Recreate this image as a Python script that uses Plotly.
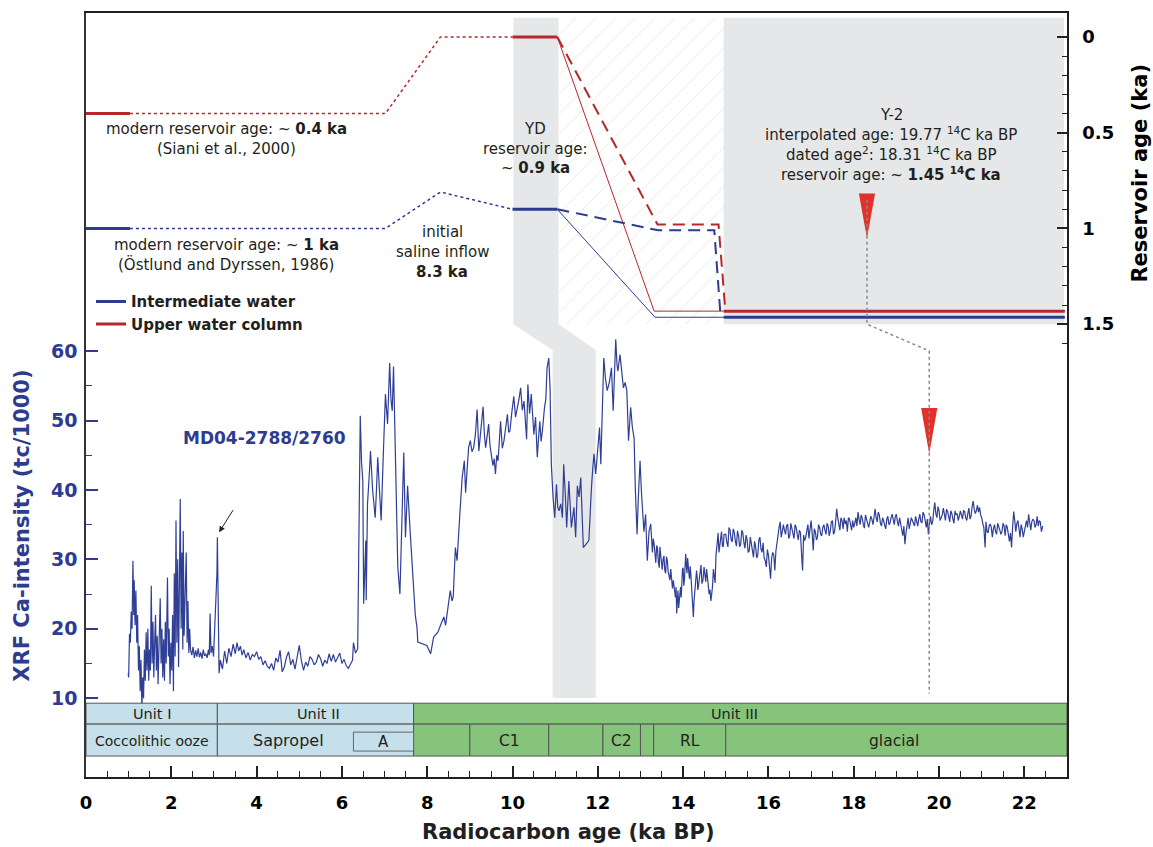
import plotly.graph_objects as go

# ---------------- DATA ----------------
# XRF Ca-intensity record MD04-2788/2760: (radiocarbon age ka BP, Ca tc/1000)
XRF_SEG1 = [(0.99,13.6),(1.00,13.0),(1.02,19.3),(1.04,18.0),(1.06,22.5),(1.08,20.0),(1.10,29.8),(1.12,22.0),(1.13,27.0),(1.15,20.5),
            (1.17,25.5),(1.19,18.0),(1.21,22.0),(1.23,14.0),(1.25,17.5),(1.27,11.0),(1.29,15.5),(1.31,8.5),(1.33,13.0),(1.35,10.0),
            (1.37,17.0),(1.39,12.5),(1.41,19.5),(1.43,14.0),(1.45,20.0),(1.47,12.5),(1.49,17.0),(1.51,14.0),(1.53,26.2),(1.55,15.0),
            (1.57,21.0),(1.59,13.0),(1.61,18.0),(1.63,22.0),(1.65,14.0),(1.67,19.0),(1.69,12.0),(1.71,17.0),(1.74,24.4),(1.76,15.0),
            (1.78,20.0),(1.80,13.0),(1.82,18.5),(1.84,12.5),(1.86,21.0),(1.88,15.0),(1.91,27.4),(1.93,16.0),(1.95,20.0),(1.97,12.0),
            (1.99,18.0),(2.01,14.0),(2.03,22.0),(2.05,11.0),(2.07,28.0),(2.09,16.0),(2.11,35.6),(2.13,18.0),(2.15,30.0),(2.17,14.5),
            (2.19,27.0),(2.21,38.7),(2.23,20.0),(2.25,31.0),(2.27,17.0),(2.28,34.1),(2.30,19.0),(2.32,25.0),(2.35,31.0),(2.37,18.0),
            (2.39,24.0),(2.41,16.5),(2.43,20.0),(2.45,17.0),(2.48,16.2),(2.51,17.4),(2.54,15.8),(2.57,16.9),(2.60,16.0),(2.63,17.2),
            (2.66,15.9),(2.69,16.6),(2.72,15.7),(2.75,17.0),(2.78,16.1),(2.81,16.4),(2.84,15.8),(2.87,17.0),(2.89,16.2),(2.91,22.2),
            (2.93,16.5),(2.96,17.5),(2.99,16.0),(3.01,19.0),(3.03,21.5),(3.05,24.0),(3.07,28.0),(3.08,33.2),(3.10,20.0),(3.12,13.6)]

XRF_SEG2 = [(3.15,15.5),(3.20,14.2),(3.25,16.8),(3.30,15.0),(3.35,17.2),(3.40,16.0),(3.45,17.8),(3.50,16.4),(3.54,18.0),(3.58,16.8),
            (3.62,17.5),(3.66,16.2),(3.70,17.0),(3.75,15.8),(3.80,16.6),(3.85,15.5),(3.90,16.3),(3.95,16.0),(4.00,16.7),(4.05,15.6),
            (4.10,16.0),(4.15,14.8),(4.20,15.4),(4.25,14.6),(4.30,14.3),(4.35,15.0),(4.40,14.0),(4.45,15.8),(4.50,15.2),(4.55,16.9),
            (4.60,13.8),(4.65,14.5),(4.70,15.9),(4.75,16.7),(4.80,14.8),(4.85,15.6),(4.90,14.2),(4.95,16.0),(5.00,17.6),(5.05,15.4),
            (5.10,14.0),(5.15,15.2),(5.20,14.6),(5.25,16.0),(5.30,15.6),(5.35,14.8),(5.40,15.2),(5.45,16.3),(5.50,15.7),(5.55,14.6),
            (5.60,15.5),(5.65,15.0),(5.70,16.4),(5.75,15.3),(5.80,16.3),(5.85,15.2),(5.90,15.8),(5.95,16.5),(6.00,15.0),(6.05,15.6),
            (6.10,14.7),(6.15,14.3),(6.20,14.9),(6.25,15.5)]

XRF_SEG3 = [(6.27,18.0),(6.32,16.5),(6.37,17.1),(6.43,50.7),(6.46,44.0),(6.49,41.3),(6.51,23.6),(6.54,28.0),(6.56,32.7),(6.57,24.1),
            (6.60,38.0),(6.64,42.0),(6.67,45.6),(6.72,40.0),(6.75,38.0),(6.78,36.0),(6.81,40.0),(6.84,44.7),(6.88,40.0),(6.92,35.6),
            (6.97,45.0),(7.02,53.8),(7.07,49.5),(7.12,58.3),(7.15,53.0),(7.18,51.4),(7.21,57.8),(7.26,42.0),(7.31,28.9),(7.36,25.0),
            (7.41,38.0),(7.45,45.4),(7.49,33.2),(7.54,40.6),(7.60,34.0),(7.65,29.0),(7.68,26.0),(7.72,22.0),(7.76,20.2),(7.78,18.1),
            (7.99,17.6),(8.08,16.4),(8.15,18.8),(8.25,19.5),(8.33,20.8),(8.39,21.7),(8.43,20.5),(8.48,23.0),(8.54,25.5),(8.58,24.0),
            (8.61,24.6),(8.66,31.7),(8.70,29.8),(8.76,36.0),(8.82,41.8),(8.87,44.2),(8.90,39.6),(8.97,46.1),(9.01,47.1),(9.05,45.5),
            (9.09,46.1),(9.13,48.0),(9.17,51.6),(9.21,45.6),(9.25,48.0),(9.31,52.0),(9.34,48.0),(9.37,46.1),(9.40,47.5),(9.44,49.5),
            (9.47,46.5),(9.50,45.2),(9.54,43.5),(9.57,44.5),(9.60,42.3),(9.63,45.0),(9.66,44.2),(9.69,47.0),(9.72,49.9),(9.76,46.0),
            (9.80,47.1),(9.84,49.0),(9.88,50.9),(9.91,48.3),(9.94,48.5),(9.98,51.0),(10.03,53.5),(10.07,50.5),(10.12,51.9),(10.15,53.0),
            (10.19,54.7),(10.23,51.5),(10.27,52.8),(10.30,50.0),(10.33,47.3),(10.36,55.2),(10.40,51.0),(10.44,53.8),(10.47,50.0),(10.50,48.0),
            (10.54,50.5),(10.58,44.7),(10.61,47.5),(10.64,49.9),(10.67,47.0),(10.70,48.5),(10.75,51.9),(10.78,53.0),(10.81,57.6),(10.85,59.0),
            (10.88,54.7),(10.91,43.7),(10.95,39.0),(10.99,36.0),(11.03,40.8),(11.06,37.5),(11.09,37.0),(11.13,38.0),(11.17,36.0),(11.20,43.7),
            (11.24,39.0),(11.27,34.6),(11.32,41.3),(11.35,37.0),(11.38,34.6),(11.44,37.5),(11.48,33.2),(11.52,40.6),(11.56,39.0),(11.60,41.8),
            (11.63,37.0),(11.66,31.7),(11.79,32.7),(11.82,37.0),(11.85,40.3),(11.88,43.0),(11.91,45.2),(11.95,42.3),(12.01,47.1),(12.04,49.0),
            (12.07,43.7),(12.10,52.0),(12.14,59.0),(12.18,56.0),(12.22,54.3),(12.27,55.5),(12.32,57.6),(12.36,51.4),(12.39,56.0),(12.42,61.7),
            (12.45,58.0),(12.47,57.1),(12.52,59.5),(12.56,57.0),(12.60,54.7),(12.64,55.5),(12.68,54.3),(12.72,47.1),(12.77,51.9),(12.81,49.0),
            (12.85,47.5),(12.88,40.0),(12.92,33.6),(12.95,39.0),(12.99,44.2),(13.02,40.0),(13.04,38.0),(13.08,34.0),(13.12,36.5),(13.14,31.0),
            (13.16,29.8),(13.20,34.0),(13.24,35.1)]

XRF_SEG4 = [(13.28,31.0),(13.32,32.2),(13.36,29.5),(13.40,31.5),(13.44,28.8),(13.47,30.8),(13.51,28.5),(13.55,30.5),(13.59,28.0),(13.63,29.8),
            (13.67,27.5),(13.71,28.6),(13.75,25.8),(13.79,26.0),(13.82,24.5),(13.85,22.2),(13.88,25.5),(13.91,23.8),(13.94,26.0),(13.97,27.5),
            (14.00,28.8),(14.03,27.0),(14.06,30.8),(14.09,28.0),(14.12,29.5),(14.15,27.2),(14.18,27.9),(14.21,25.0),(14.24,21.7),(14.27,25.5),
            (14.30,27.0),(14.33,27.4),(14.36,26.2),(14.40,28.0),(14.44,26.5),(14.49,28.9),(14.53,26.8),(14.57,27.5),(14.61,25.0),(14.65,24.0),
            (14.69,26.2),(14.73,27.9),(14.77,30.5),(14.80,32.7),(14.84,31.0),(14.88,33.2),(14.92,32.0),(14.96,33.6)]
XRF_SEG4_FINE = [(13.30,33.0),(13.34,30.0),(13.38,32.0),(13.42,29.6),(13.455,31.8),(13.49,29.2),(13.53,30.0),(13.57,28.4),(13.61,30.4),
                 (13.65,28.2),(13.69,27.0),(13.73,27.4),(13.77,27.0),(13.805,25.0),(13.835,26.0),(13.865,24.2),(13.895,23.0),(13.925,25.2),
                 (13.955,24.5),(13.985,28.6),(14.015,26.2),(14.045,29.0),(14.075,29.2),(14.105,30.2),(14.135,28.0),(14.165,29.0),(14.195,26.0),
                 (14.225,24.0),(14.255,24.0),(14.285,26.2),(14.315,28.4),(14.345,25.6),(14.38,27.6),(14.42,29.2),(14.465,27.0),(14.51,27.2),
                 (14.55,28.6),(14.59,26.4),(14.63,25.6),(14.67,25.0),(14.71,28.6),(14.75,26.6),(14.785,31.5),(14.82,33.8),(14.86,32.0),
                 (14.90,34.0),(14.94,31.8)]

XRF_SEG5 = [(15.00,33.6),(15.05,31.8),(15.10,34.2),(15.15,32.5),(15.20,33.9),(15.25,31.9),(15.30,33.4),(15.35,32.2),(15.40,33.8),(15.45,31.6),
            (15.50,32.8),(15.55,31.2),(15.60,32.4),(15.65,30.3),(15.70,31.8),(15.75,30.6),(15.80,33.2),(15.85,31.0),(15.90,30.2),(15.95,28.9),
            (16.00,30.6),(16.05,27.2),(16.10,31.0),(16.15,28.4),(16.20,32.5),(16.25,34.6),(16.30,33.2),(16.35,35.0),(16.40,33.6),(16.45,35.1),
            (16.50,33.4),(16.55,34.4),(16.60,33.0),(16.65,34.6),(16.70,32.8),(16.75,33.9),(16.80,28.4),(16.85,32.7),(16.90,34.2),(16.95,33.0),
            (17.00,35.6),(17.05,31.3),(17.10,34.0),(17.15,33.2),(17.20,34.6),(17.25,33.4),(17.30,35.0),(17.35,33.6),(17.40,34.8),(17.45,34.1),
            (17.50,35.6),(17.55,34.0),(17.60,37.3),(17.65,35.2),(17.70,36.0),(17.75,34.4),(17.80,35.1),(17.85,34.0),(17.90,35.8),(17.95,34.2),
            (18.00,34.6),(18.05,36.0),(18.10,36.8),(18.15,35.0),(18.20,35.9),(18.25,34.5),(18.30,35.8),(18.35,34.6),(18.40,36.2),(18.45,35.0),
            (18.50,37.3),(18.55,35.4),(18.60,36.4),(18.65,34.8),(18.70,35.6),(18.75,34.4),(18.80,36.2),(18.85,35.2),(18.90,36.5),(18.95,35.0),
            (19.00,36.5),(19.05,34.8),(19.10,35.1),(19.15,33.4),(19.20,32.2),(19.25,35.2),(19.30,34.4),(19.35,36.0),(19.40,35.1),(19.45,36.2),
            (19.50,34.8),(19.55,36.5),(19.60,35.3),(19.65,36.4),(19.70,34.6),(19.75,33.6),(19.80,36.2),(19.85,35.4),(19.90,38.2),(19.95,36.0),
            (20.00,37.0),(20.05,36.0),(20.10,37.4),(20.15,35.6),(20.20,36.9),(20.25,35.4),(20.30,36.6),(20.35,35.2),(20.40,36.4),(20.45,35.6),
            (20.50,37.0),(20.55,35.8),(20.60,36.9),(20.65,35.6),(20.70,37.4),(20.75,36.2),(20.80,38.4),(20.85,36.6),(20.90,37.8),(20.95,37.5),
            (21.00,36.0),(21.05,34.6),(21.08,31.7),(21.10,35.4),(21.15,33.8),(21.20,35.1),(21.25,33.2),(21.30,35.0),(21.35,33.6),(21.40,34.8),
            (21.45,33.6),(21.50,35.2),(21.55,33.4),(21.60,34.6),(21.65,32.6),(21.70,31.7),(21.75,36.9),(21.80,34.0),(21.85,35.6),(21.90,33.2),
            (21.95,34.4),(22.00,33.8),(22.05,35.6),(22.10,36.5),(22.15,34.2),(22.20,35.8),(22.25,34.6),(22.30,36.2),(22.35,35.6),(22.40,34.0),
            (22.43,34.8)]
XRF_SEG5_FINE = [(15.025,32.4),(15.075,34.6),(15.125,32.9),(15.175,34.4),(15.225,32.6),(15.275,34.1),(15.325,31.8),(15.375,34.2),(15.425,32.4),
                 (15.475,33.5),(15.525,31.0),(15.575,33.2),(15.625,31.5),(15.675,32.6),(15.725,30.2),(15.775,32.8),(15.825,31.5),(15.875,32.4),
                 (15.925,29.8),(15.975,31.4),(16.025,29.0),(16.075,30.2),(16.125,30.6),(16.175,31.2),(16.225,33.4),(16.275,35.4),(16.325,34.0),
                 (16.375,34.2),(16.425,34.8),(16.475,33.0),(16.525,35.2),(16.575,33.4),(16.625,35.0),(16.675,33.6),(16.725,34.2),(16.775,31.0),
                 (16.825,33.5),(16.875,33.2),(16.925,35.0),(16.975,34.2),(17.025,33.8),(17.075,34.4),(17.125,32.8),(17.175,35.0),(17.225,33.6),
                 (17.275,34.6),(17.325,34.2),(17.375,35.2),(17.425,33.4),(17.475,35.4),(17.525,33.6),(17.575,35.4),(17.625,36.0),(17.675,34.2),
                 (17.725,35.6),(17.775,36.0),(17.825,35.6),(17.875,36.0),(17.925,34.6),(17.975,35.6),(18.025,35.2),(18.075,34.8),(18.125,35.8),
                 (18.175,36.4),(18.225,35.0),(18.275,36.4),(18.325,35.4),(18.375,35.4),(18.425,35.8),(18.475,36.0),(18.525,36.0),(18.575,36.8),
                 (18.625,35.2),(18.675,36.0),(18.725,34.9),(18.775,35.8),(18.825,35.0),(18.875,36.0),(18.925,35.8),(18.975,36.2),(19.025,35.4),
                 (19.075,36.0),(19.125,34.6),(19.175,34.8),(19.225,33.8),(19.275,36.0),(19.325,35.0),(19.375,35.6),(19.425,34.8),(19.475,35.5),
                 (19.525,35.8),(19.575,35.4),(19.625,36.8),(19.675,35.6),(19.725,35.8),(19.775,35.2),(19.825,35.0),(19.875,37.0),(19.925,36.6),
                 (19.975,37.6),(20.025,35.6),(20.075,36.4),(20.125,36.2),(20.175,37.2),(20.225,36.2),(20.275,37.0),(20.325,35.8),(20.375,37.0),
                 (20.425,36.6),(20.475,36.2),(20.525,36.4),(20.575,37.0),(20.625,36.0),(20.675,36.6),(20.725,35.8),(20.775,37.6),(20.825,37.2),
                 (20.875,37.0),(20.925,36.8),(20.975,36.4),(21.025,35.2),(21.125,34.0),(21.175,34.8),(21.225,34.6),(21.275,34.4),(21.325,34.0),
                 (21.375,35.2),(21.425,34.2),(21.475,34.0),(21.525,34.8),(21.575,35.0),(21.625,33.6),(21.675,33.8),(21.725,34.6),(21.775,35.6),
                 (21.825,35.2),(21.875,34.4),(21.925,35.0),(21.975,33.2),(22.025,34.8),(22.075,34.6),(22.125,35.4),(22.175,35.4),(22.225,35.6),
                 (22.275,35.0),(22.325,34.8),(22.375,35.4)]

# Reservoir ages (ka) — intermediate water
INT_MODERN_AGE = [0.0, 1.03];                 INT_MODERN_RES = [1.0, 1.0]
INT_HOLO_AGE   = [1.03, 7.02, 8.31, 10.0];    INT_HOLO_RES   = [1.0, 1.0, 0.81, 0.90]
INT_YD_AGE     = [10.0, 11.05];               INT_YD_RES     = [0.9, 0.9]
INT_SOLID_AGE  = [11.05, 13.34, 14.95];       INT_SOLID_RES  = [0.9, 1.464, 1.464]
INT_DASH_AGE   = [11.05, 13.42, 14.73, 14.88]; INT_DASH_RES  = [0.9, 1.01, 1.01, 1.464]
INT_GLAC_AGE   = [14.95, 22.95];              INT_GLAC_RES   = [1.464, 1.464]
# Reservoir ages (ka) — upper water column
UPP_MODERN_AGE = [0.0, 1.03];                 UPP_MODERN_RES = [0.4, 0.4]
UPP_HOLO_AGE   = [1.03, 7.02, 8.31, 10.0];    UPP_HOLO_RES   = [0.4, 0.4, 0.0, 0.0]
UPP_YD_AGE     = [10.0, 11.05];               UPP_YD_RES     = [0.0, 0.0]
UPP_SOLID_AGE  = [11.05, 13.32, 14.95];       UPP_SOLID_RES  = [0.0, 1.432, 1.432]
UPP_DASH_AGE   = [11.05, 13.40, 14.83, 14.99]; UPP_DASH_RES  = [0.0, 0.98, 0.98, 1.432]
UPP_GLAC_AGE   = [14.95, 22.95];              UPP_GLAC_RES   = [1.432, 1.432]

# Tephra Y-2
Y2_DATED = 18.31
Y2_INTERP = 19.77

# Lithology
UNIT_NAMES  = ["Unit I", "Unit II", "Unit III"]
UNIT_BOUNDS = [(0.0, 3.08), (3.08, 7.68), (7.68, 23.0)]
UNIT_LABEL_X = [1.54, 5.45, 15.2]
LITH_NAMES  = ["Coccolithic ooze", "Sapropel", "", "C1", "", "C2", "", "RL", "glacial"]
LITH_BOUNDS = [(0.0, 3.08), (3.08, 7.68), (7.68, 9.0), (9.0, 10.85), (10.85, 12.12),
               (12.12, 13.0), (13.0, 13.31), (13.31, 15.0), (15.0, 23.0)]
LITH_LABEL_X = [1.54, 4.75, None, 9.93, None, 12.56, None, 14.15, 18.95]
SAPROPEL_A = (6.27, 7.68)

X_TICKS = [0, 2, 4, 6, 8, 10, 12, 14, 16, 18, 20, 22]
CA_TICKS = [10, 20, 30, 40, 50, 60]
RES_TICKS = [0, 0.5, 1, 1.5]
RES_TICK_TEXT = ["0", "0.5", "1", "1.5"]

# ---------------- layout helpers ----------------
L, R, T, B = 86, 1067, 11, 777
W, H = R - L, B - T
def PX(p): return (p - L) / W
def PY(p): return (B - p) / H

BLUE = "#2e3b8f"
RED = "#b3272d"
CURVE = "#2f3f96"
TXT = "#231f20"
GRAY = "#e6e7e8"
LBLUE = "#c5e0eb"
GREEN = "#86c47c"
FONT = "DejaVu Sans"

fig = go.Figure()

# hatched interval
fig.add_trace(go.Bar(x=[13.015], y=[1.6], base=[-0.1], width=[3.87], yaxis="y2",
                     marker=dict(color="rgba(0,0,0,0)", line=dict(width=0),
                                 pattern=dict(shape="/", fgcolor="#d2d2d2", bgcolor="rgba(0,0,0,0)",
                                              size=14, solidity=0.07)),
                     showlegend=False, hoverinfo="skip"))

# XRF curve
xrf = sorted(XRF_SEG1 + XRF_SEG2 + XRF_SEG3 + XRF_SEG4 + XRF_SEG4_FINE + XRF_SEG5 + XRF_SEG5_FINE)
fig.add_trace(go.Scatter(x=[a for a, _ in xrf], y=[c for _, c in xrf], mode="lines",
                         line=dict(color=CURVE, width=1.2), showlegend=False, hoverinfo="skip"))

def res_line(xs, ys, color, width, dash="solid", name=None, legend=False, group=None):
    fig.add_trace(go.Scatter(x=xs, y=ys, yaxis="y2", mode="lines",
                             line=dict(color=color, width=width, dash=dash),
                             name=name, showlegend=legend, legendgroup=group, hoverinfo="skip"))

res_line(INT_MODERN_AGE, INT_MODERN_RES, BLUE, 3, name="<b>Intermediate water</b>", legend=True, group="int")
res_line(UPP_MODERN_AGE, UPP_MODERN_RES, RED, 3, name="<b>Upper water column</b>", legend=True, group="upp")
res_line(INT_HOLO_AGE, INT_HOLO_RES, BLUE, 1.5, "dot")
res_line(UPP_HOLO_AGE, UPP_HOLO_RES, RED, 1.5, "dot")
res_line(INT_YD_AGE, INT_YD_RES, BLUE, 3)
res_line(UPP_YD_AGE, UPP_YD_RES, RED, 3)
res_line(INT_SOLID_AGE, INT_SOLID_RES, BLUE, 1)
res_line(UPP_SOLID_AGE, UPP_SOLID_RES, RED, 1)
res_line(INT_DASH_AGE, INT_DASH_RES, BLUE, 2, "12px,7px")
res_line(UPP_DASH_AGE, UPP_DASH_RES, RED, 2, "12px,7px")
res_line(INT_GLAC_AGE, INT_GLAC_RES, BLUE, 3)
res_line(UPP_GLAC_AGE, UPP_GLAC_RES, RED, 3)

# Y-2 connector (dated -> interpolated age)
fig.add_trace(go.Scatter(x=[Y2_DATED, Y2_DATED, Y2_INTERP, Y2_INTERP], y=[0.85, 1.5, 1.64, 3.43],
                         yaxis="y2", mode="lines", line=dict(color="#8c8c8c", width=1.5, dash="dot"),
                         showlegend=False, hoverinfo="skip"))

shapes = []
shapes.append(dict(type="path", xref="x", yref="y2", layer="below", line=dict(width=0), fillcolor=GRAY,
                   path="M 10.02,-0.1 L 11.08,-0.1 L 11.08,1.5 L 11.95,1.635 L 11.95,3.453 "
                        "L 10.94,3.453 L 10.94,1.635 L 10.02,1.5 Z"))
shapes.append(dict(type="rect", xref="x", yref="y2", layer="below", line=dict(width=0), fillcolor=GRAY,
                   x0=14.95, x1=22.93, y0=-0.1, y1=1.5))
for xc, y0, y1 in [(Y2_DATED, 0.818, 1.052), (Y2_INTERP, 1.9375, 2.177)]:
    shapes.append(dict(type="path", xref="x", yref="y2", layer="below", line=dict(width=0),
                       fillcolor="#e2302a",
                       path=f"M {xc-0.19},{y0} L {xc+0.19},{y0} L {xc},{y1} Z"))

for (x0, x1) in UNIT_BOUNDS:
    shapes.append(dict(type="rect", xref="x", yref="paper", layer="above",
                       x0=x0, x1=x1, y0=PY(724), y1=PY(703),
                       fillcolor=LBLUE if x1 <= 7.7 else GREEN, line=dict(color="#555555", width=1)))
for (x0, x1) in LITH_BOUNDS:
    shapes.append(dict(type="rect", xref="x", yref="paper", layer="above",
                       x0=x0, x1=x1, y0=PY(756), y1=PY(724),
                       fillcolor=LBLUE if x1 <= 7.7 else GREEN, line=dict(color="#555555", width=1)))
shapes.append(dict(type="rect", xref="x", yref="paper", layer="above",
                   x0=SAPROPEL_A[0], x1=SAPROPEL_A[1], y0=PY(751), y1=PY(732),
                   fillcolor=LBLUE, line=dict(color="#666666", width=1)))

ann = []
def txt(s, x, y, size=15, color=TXT, xanchor="center", angle=0):
    ann.append(dict(text=s, x=PX(x), y=PY(y), xref="paper", yref="paper", showarrow=False,
                    xanchor=xanchor, yanchor="middle", textangle=angle,
                    font=dict(family=FONT, size=size, color=color)))

for name, xc in zip(UNIT_NAMES, UNIT_LABEL_X):
    ann.append(dict(text=name, x=xc, y=PY(713.5), xref="x", yref="paper", showarrow=False,
                    xanchor="center", yanchor="middle", font=dict(family=FONT, size=14.5, color=TXT)))
for name, xc in zip(LITH_NAMES, LITH_LABEL_X):
    if name:
        size = 14 if name.startswith("Cocco") else (16 if name == "Sapropel" else 15.5)
        ann.append(dict(text=name, x=xc, y=PY(740.5), xref="x", yref="paper", showarrow=False,
                        xanchor="center", yanchor="middle", font=dict(family=FONT, size=size, color=TXT)))
ann.append(dict(text="A", x=sum(SAPROPEL_A) / 2, y=PY(741.5), xref="x", yref="paper", showarrow=False,
                xanchor="center", yanchor="middle", font=dict(family=FONT, size=15, color=TXT)))

txt("modern reservoir age: ~ <b>0.4 ka</b>", 226, 127)
txt("(Siani et al., 2000)", 226, 147)
txt("modern reservoir age: ~ <b>1 ka</b>", 226, 244)
txt("(Östlund and Dyrssen, 1986)", 226, 263)
txt("initial", 442, 231)
txt("saline inflow", 442, 251)
txt("<b>8.3 ka</b>", 442, 271)
txt("YD", 535, 127)
txt("reservoir age:", 535, 147)
txt("~ <b>0.9 ka</b>", 535, 166)
txt("Y-2", 891, 113)
txt("interpolated age: 19.77 <sup>14</sup>C ka BP", 891, 132)
txt("dated age<sup>2</sup>: 18.31 <sup>14</sup>C ka BP", 891, 152)
txt("reservoir age: ~ <b>1.45 <sup>14</sup>C ka</b>", 891, 172)
txt("<b>MD04-2788/2760</b>", 264, 437, size=17, color=BLUE)

txt("<b>XRF Ca-intensity (tc/1000)</b>", 22, 525, size=21, color=BLUE, angle=-90)
txt("<b>Reservoir age (ka)</b>", 1140, 172, size=21, color="#000000", angle=-90)
txt("<b>Radiocarbon age (ka BP)</b>", 568, 832, size=21, color=TXT)

# arrow pointing at the 3.1 ka spike
ann.append(dict(text="", x=3.12, y=33.9, xref="x", yref="y", ax=3.47, ay=37.3, axref="x", ayref="y",
                showarrow=True, arrowhead=2, arrowsize=1.2, arrowwidth=1, arrowcolor="#231f20"))

x_minor = [v / 2 for v in range(1, 46) if v % 4 != 0]
ca_minor = [15, 25, 35, 45, 55]
res_minor = [round(v / 10, 1) for v in range(1, 17) if v % 5 != 0]

fig.update_layout(
    width=1153, height=847, autosize=False,
    margin=dict(l=L, r=1153 - R, t=T, b=847 - B),
    paper_bgcolor="white", plot_bgcolor="white",
    font=dict(family=FONT, color=TXT),
    shapes=shapes, annotations=ann,
    showlegend=True,
    legend=dict(x=PX(91), y=PY(284), xanchor="left", yanchor="top", bgcolor="rgba(0,0,0,0)",
                font=dict(family=FONT, size=15, color=TXT), traceorder="normal",
                tracegroupgap=5, itemwidth=30),
    xaxis=dict(range=[0, 23], tickvals=X_TICKS, ticks="inside", ticklen=11, tickwidth=1.5, tickcolor=TXT,
               minor=dict(tickvals=x_minor, ticks="inside", ticklen=6, tickwidth=1.2, tickcolor=TXT),
               showline=True, linecolor=TXT, linewidth=1.5, mirror=True, showgrid=False, zeroline=False,
               tickfont=dict(family=FONT, size=18, color="#000000", weight="bold"), ticklabelstandoff=9),
    yaxis=dict(range=[-1.351, 108.71], tickvals=CA_TICKS, ticks="inside", ticklen=12, tickwidth=1.5,
               tickcolor=BLUE,
               minor=dict(tickvals=ca_minor, ticks="inside", ticklen=6, tickwidth=1.2, tickcolor=BLUE),
               showline=True, linecolor="#333333", linewidth=1.5, showgrid=False, zeroline=False,
               tickfont=dict(family=FONT, size=19, color=BLUE, weight="bold"), ticklabelstandoff=3),
    yaxis2=dict(range=[3.865, -0.125], overlaying="y", side="right", tickvals=RES_TICKS, ticktext=RES_TICK_TEXT,
                ticks="inside", ticklen=10, tickwidth=1.5, tickcolor=TXT,
                minor=dict(tickvals=res_minor, ticks="inside", ticklen=5, tickwidth=1.2, tickcolor=TXT),
                showline=True, linecolor=TXT, linewidth=1.5, showgrid=False, zeroline=False,
                tickfont=dict(family=FONT, size=18, color="#000000", weight="bold"), ticklabelstandoff=10),
    bargap=0,
)

fig.write_html("out.html", config={"displayModeBar": False},
               post_script="document.body.style.margin='0px';")
